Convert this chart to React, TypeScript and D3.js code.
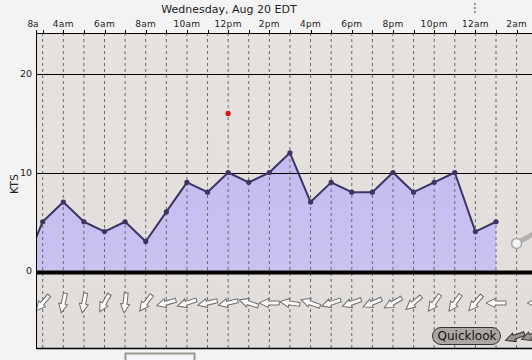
import React from "react";
import * as d3 from "d3";

// Hours since midnight (Aug 20), wind speed in knots
const hours = [2, 3, 4, 5, 6, 7, 8, 9, 10, 11, 12, 13, 14, 15, 16, 17, 18, 19, 20, 21, 22, 23, 24, 25];
const speeds = [0, 5, 7, 5, 4, 5, 3, 6, 9, 8, 10, 9, 10, 12, 7, 9, 8, 8, 10, 8, 9, 10, 4, 5];
// Gust observation
const gustHours = [12];
const gustValues = [16];
// Forecast continuation (grey)
const fcstHours = [26, 27];
const fcstValues = [2.8, 4];
// Wind direction (degrees, wind from) at each hour
const dirHours = [3, 4, 5, 6, 7, 8, 9, 10, 11, 12, 13, 14, 15, 16, 17, 18, 19, 20, 21, 22, 23, 24, 25, 27];
const dirValues = [40, 12, 10, 29, 6, 37, 74, 72, 77, 77, 108, 90, 98, 110, 72, 70, 67, 60, 50, 35, 35, 40, 90, 90];
// Axis labels
const tickHours = [4, 6, 8, 10, 12, 14, 16, 18, 20, 22, 24, 26];
const tickLabels = ["4am", "6am", "8am", "10am", "12pm", "2pm", "4pm", "6pm", "8pm", "10pm", "12am", "2am"];
const yTicks = [0, 10, 20];
const title = "Wednesday, Aug 20 EDT";

const W = 532, H = 360;
const L = 36, T = 33, B = 348, Z = 271;
const FONT = "DejaVu Sans, sans-serif";

const arrowPath = "M-10,-2 L1,-2 L1,-4.5 L10,0 L1,4.5 L1,2 L-10,2 Z";

export default function App() {
  const x = d3.scaleLinear().domain([3, 25]).range([42.7, 496]);
  const y = d3.scaleLinear().domain([0, 20]).range([Z, 74]);
  const data = hours.map((h, i) => ({ h, v: speeds[i] }));
  const area = d3.area<any>().x(d => x(d.h)).y0(y(0)).y1(d => y(d.v));
  const line = d3.line<any>().x(d => x(d.h)).y(d => y(d.v));
  const fcst = fcstHours.map((h, i) => ({ h, v: fcstValues[i] }));
  const gridHours = d3.range(3, 28);

  return (
    <svg width={W} height={H} style={{ position: "absolute", left: 0, top: 0 }} fontFamily={FONT}>
      <defs>
        <clipPath id="plot">
          <rect x={L} y={T} width={W - L} height={Z - T} />
        </clipPath>
        <linearGradient id="bg" x1="0" y1="0" x2="0" y2="1">
          <stop offset="0" stopColor="#e5e2df" />
          <stop offset="1" stopColor="#e0dddb" />
        </linearGradient>
        <linearGradient id="fill" x1="0" y1="0" x2="0" y2="1">
          <stop offset="0" stopColor="#c4bcf0" />
          <stop offset="1" stopColor="#c9c2f1" />
        </linearGradient>
      </defs>
      <rect width={W} height={H} fill="#f3f3f3" />
      <rect x={L} y={T} width={W - L} height={B - T} fill="url(#bg)" />

      <g clipPath="url(#plot)">
        <path d={area(data) || ""} fill="url(#fill)" />
      </g>

      {/* vertical dashed gridlines */}
      {gridHours.map(h => (
        <line key={"g" + h} x1={x(h)} x2={x(h)} y1={T} y2={B} stroke="#6a6a6a" strokeWidth={1} strokeDasharray="3,3" />
      ))}
      {/* horizontal gridlines */}
      {yTicks.filter(v => v > 0).map(v => (
        <line key={"h" + v} x1={L} x2={W} y1={Math.round(y(v)) + 0.5} y2={Math.round(y(v)) + 0.5} stroke="#000" strokeWidth={1} />
      ))}
      {/* zero line */}
      <line x1={L} x2={W} y1={y(0) + 1.5} y2={y(0) + 1.5} stroke="#000" strokeWidth={4} />

      {/* series line and points */}
      <g clipPath="url(#plot)">
        <path d={line(data) || ""} fill="none" stroke="#3b3464" strokeWidth={2} strokeLinejoin="round" />
        {data.map(d => (
          <circle key={"p" + d.h} cx={x(d.h)} cy={y(d.v)} r={2.6} fill="#3b3464" />
        ))}
        <path d={line(fcst) || ""} fill="none" stroke="#b3b1b0" strokeWidth={5} strokeLinecap="round" />
        <circle cx={x(fcst[0].h)} cy={y(fcst[0].v)} r={5} fill="#f4f4f4" stroke="#a9a7a6" strokeWidth={1.5} />
        {gustHours.map((h, i) => (
          <circle key={"gu" + h} cx={x(h)} cy={y(gustValues[i])} r={2.6} fill="#e01010" />
        ))}
      </g>

      {/* wind direction arrows */}
      <g>
        {dirHours.map((h, i) => (
          <path key={"a" + h} d={arrowPath} transform={`translate(${x(h)},303) rotate(${dirValues[i] + 90})`}
            fill="#fbfbfb" stroke="#6e6e6e" strokeWidth={1} strokeLinejoin="miter" />
        ))}
      </g>

      {/* frame */}
      <line x1={L} x2={W} y1={T + 0.5} y2={T + 0.5} stroke="#000" strokeWidth={1} />
      <line x1={L + 0.5} x2={L + 0.5} y1={30} y2={B} stroke="#000" strokeWidth={1} />
      <line x1={L} x2={W} y1={B + 0.5} y2={B + 0.5} stroke="#000" strokeWidth={1.5} />

      {/* top axis ticks */}
      {gridHours.map(h => (
        <line key={"t" + h} x1={Math.round(x(h)) + 0.5} x2={Math.round(x(h)) + 0.5} y1={30} y2={T} stroke="#000" strokeWidth={1} />
      ))}
      <text x={33} y={27} fontSize={9} textAnchor="middle" fill="#222">8a</text>
      {tickHours.map((h, i) => (
        <text key={"l" + h} x={x(h)} y={27} fontSize={9} textAnchor="middle" fill="#222" letterSpacing={0.3}>{tickLabels[i]}</text>
      ))}
      <text x={229} y={13} fontSize={11} textAnchor="middle" fill="#222">{title}</text>
      <line x1={x(24) - 0.5} x2={x(24) - 0.5} y1={3} y2={15} stroke="#333" strokeWidth={1} strokeDasharray="2,2" />

      {/* y axis labels */}
      {yTicks.map(v => (
        <text key={"y" + v} x={32} y={y(v)} dy="0.35em" fontSize={9.5} textAnchor="end" fill="#222">{v}</text>
      ))}
      <text transform="translate(18,184) rotate(-90)" fontSize={11} textAnchor="middle" fill="#222">KTS</text>

      {/* Quicklook button */}
      <rect x={432.5} y={327.5} width={68} height={17} rx={8.5} fill="#aca7a3" stroke="#333" strokeWidth={1} />
      <text x={467} y={336} dy="0.35em" fontSize={12} textAnchor="middle" fill="#111">Quicklook</text>
      <path d={arrowPath} transform="translate(515,337) rotate(160)" fill="#9a9590" stroke="#333" strokeWidth={1} />
      <path d={arrowPath} transform="translate(531,336) rotate(160)" fill="#9a9590" stroke="#333" strokeWidth={1} />

      {/* box below */}
      <rect x={125.5} y={353.5} width={69} height={20} fill="#f6f6f6" stroke="#9c9690" strokeWidth={2} />
    </svg>
  );
}
